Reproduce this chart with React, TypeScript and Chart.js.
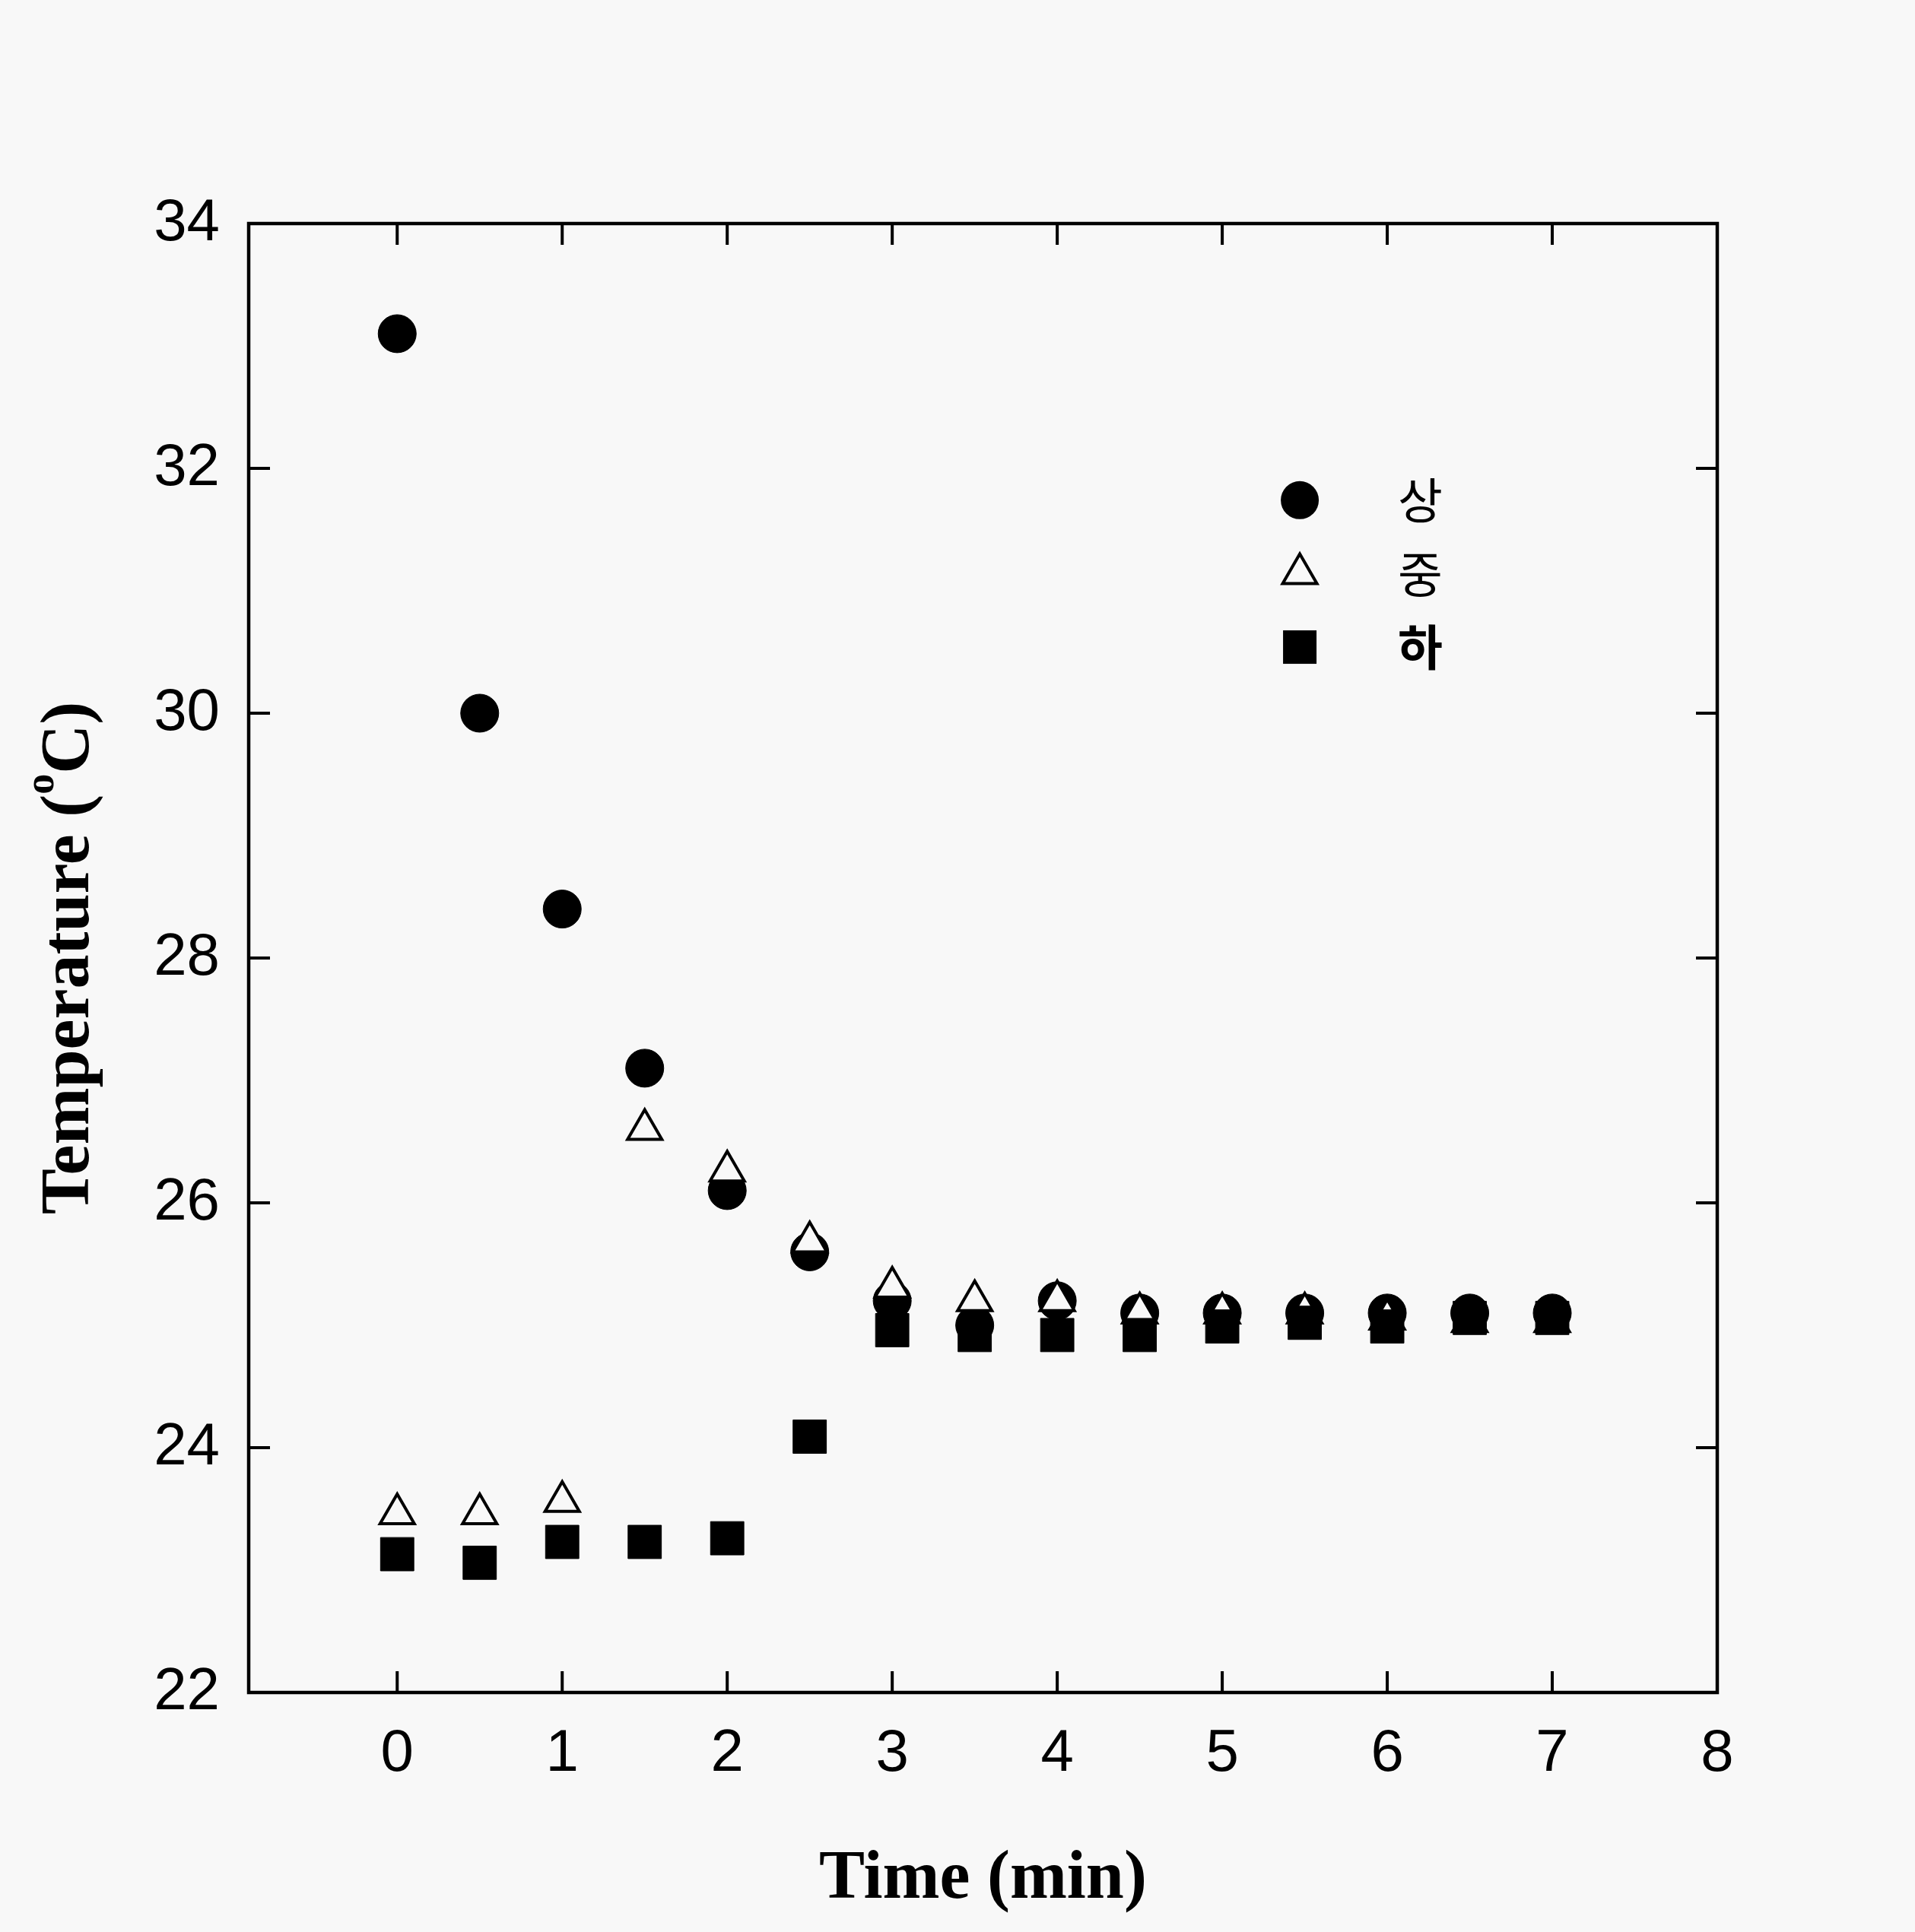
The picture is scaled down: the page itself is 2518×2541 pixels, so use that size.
import React, { useEffect, useRef } from 'react';
import { Chart, registerables } from 'chart.js';

Chart.register(...registerables);

// ---- data ----
const times = [0, 0.5, 1, 1.5, 2, 2.5, 3, 3.5, 4, 4.5, 5, 5.5, 6, 6.5, 7];
const sangValues = [33.1, 30.0, 28.4, 27.1, 26.1, 25.6, 25.2, 25.0, 25.2, 25.1, 25.1, 25.1, 25.1, 25.1, 25.1];
const jungValues = [23.46, 23.46, 23.56, 26.6, 26.26, 25.68, 25.31, 25.2, 25.2, 25.1, 25.1, 25.1, 25.05, 25.03, 25.03];
const haValues = [23.13, 23.06, 23.23, 23.23, 23.26, 24.09, 24.96, 24.92, 24.92, 24.92, 24.99, 25.02, 24.99, 25.06, 25.06];
const seriesLabels = ['상', '중', '하'];
const xTickValues = [0, 1, 2, 3, 4, 5, 6, 7, 8];
const yTickValues = [22, 24, 26, 28, 30, 32, 34];
const xTitle = 'Time (min)';
const yTitleMain = 'Temperature (';
const yTitleSup = 'o';
const yTitleEnd = 'C)';

const BG = '#f8f8f8';
const W = 2518;
const H = 2541;

const bgPlugin = {
  id: 'bgFill',
  beforeDraw(chart: any) {
    const { ctx } = chart;
    ctx.save();
    ctx.fillStyle = BG;
    ctx.fillRect(0, 0, chart.width, chart.height);
    ctx.restore();
  },
};

const framePlugin = {
  id: 'frameTicks',
  afterDraw(chart: any) {
    const { ctx, chartArea: a, scales } = chart;
    const x = scales.x;
    const y = scales.y;
    ctx.save();
    ctx.strokeStyle = '#000';
    ctx.lineWidth = 4.5;
    ctx.strokeRect(a.left, a.top, a.right - a.left, a.bottom - a.top);
    ctx.lineWidth = 4;
    const tl = 28;
    ctx.beginPath();
    for (const v of xTickValues) {
      const px = x.getPixelForValue(v);
      if (px <= a.left + 2 || px >= a.right - 2) continue;
      ctx.moveTo(px, a.bottom);
      ctx.lineTo(px, a.bottom - tl);
      ctx.moveTo(px, a.top);
      ctx.lineTo(px, a.top + tl);
    }
    for (const v of yTickValues) {
      const py = y.getPixelForValue(v);
      if (py <= a.top + 2 || py >= a.bottom - 2) continue;
      ctx.moveTo(a.left, py);
      ctx.lineTo(a.left + tl, py);
      ctx.moveTo(a.right, py);
      ctx.lineTo(a.right - tl, py);
    }
    ctx.stroke();
    ctx.restore();
  },
};

const yTitlePlugin = {
  id: 'yTitle',
  afterDraw(chart: any) {
    const { ctx, chartArea: a } = chart;
    ctx.save();
    ctx.translate(116, (a.top + a.bottom) / 2);
    ctx.rotate(-Math.PI / 2);
    ctx.fillStyle = '#000';
    ctx.textBaseline = 'alphabetic';
    ctx.textAlign = 'left';
    const mainFont = 'bold 90px "Liberation Serif", "Times New Roman", serif';
    const supFont = 'bold 54px "Liberation Serif", "Times New Roman", serif';
    ctx.font = mainFont;
    const w1 = ctx.measureText(yTitleMain).width;
    const w3 = ctx.measureText(yTitleEnd).width;
    ctx.font = supFont;
    const w2 = ctx.measureText(yTitleSup).width;
    const total = w1 + w2 + w3;
    let sx = -total / 2;
    ctx.font = mainFont;
    ctx.fillText(yTitleMain, sx, 0);
    sx += w1;
    ctx.font = supFont;
    ctx.fillText(yTitleSup, sx, -46);
    sx += w2;
    ctx.font = mainFont;
    ctx.fillText(yTitleEnd, sx, 0);
    ctx.restore();
  },
};

// legend anchor positions in data units
const legendMarkerX = 5.47;
const legendTextX = 6.2;
const legendYs = [31.74, 31.14, 30.54];

const legendPlugin = {
  id: 'customLegend',
  afterDraw(chart: any) {
    const { ctx, scales } = chart;
    const x = scales.x;
    const y = scales.y;
    const mx = x.getPixelForValue(legendMarkerX);
    const tx = x.getPixelForValue(legendTextX);
    ctx.save();
    // circle
    let my = y.getPixelForValue(legendYs[0]);
    ctx.fillStyle = '#000';
    ctx.beginPath();
    ctx.arc(mx, my, 25, 0, Math.PI * 2);
    ctx.fill();
    // triangle
    my = y.getPixelForValue(legendYs[1]);
    const r = 26;
    ctx.beginPath();
    for (let i = 0; i < 3; i++) {
      const ang = (i * 2 * Math.PI) / 3;
      const px = mx + Math.sin(ang) * r;
      const py = my - Math.cos(ang) * r;
      if (i === 0) ctx.moveTo(px, py);
      else ctx.lineTo(px, py);
    }
    ctx.closePath();
    ctx.fillStyle = BG;
    ctx.fill();
    ctx.lineWidth = 4;
    ctx.strokeStyle = '#000';
    ctx.stroke();
    // square
    my = y.getPixelForValue(legendYs[2]);
    ctx.fillStyle = '#000';
    ctx.fillRect(mx - 22, my - 22, 44, 44);
    // labels
    ctx.textAlign = 'center';
    ctx.textBaseline = 'middle';
    ctx.fillStyle = '#000';
    seriesLabels.forEach((lab, i) => {
      ctx.font = (i === 2 ? 'bold ' : '') + '64px "Noto Sans CJK KR", sans-serif';
      ctx.fillText(lab, tx, y.getPixelForValue(legendYs[i]));
    });
    ctx.restore();
  },
};

export default function App() {
  const canvasRef = useRef<HTMLCanvasElement | null>(null);

  useEffect(() => {
    const canvas = canvasRef.current;
    if (!canvas) return;
    const toPts = (vals: number[]) => times.map((t, i) => ({ x: t, y: vals[i] }));
    const chart = new Chart(canvas, {
      type: 'scatter',
      data: {
        datasets: [
          {
            label: seriesLabels[0],
            data: toPts(sangValues),
            pointStyle: 'circle',
            pointRadius: 25,
            pointBackgroundColor: '#000',
            pointBorderColor: '#000',
            pointBorderWidth: 1,
            order: 2,
          },
          {
            label: seriesLabels[1],
            data: toPts(jungValues),
            pointStyle: 'triangle',
            pointRadius: 26,
            pointBackgroundColor: BG,
            pointBorderColor: '#000',
            pointBorderWidth: 4,
            order: 1,
          },
          {
            label: seriesLabels[2],
            data: toPts(haValues),
            pointStyle: 'rect',
            pointRadius: 31,
            pointBackgroundColor: '#000',
            pointBorderColor: '#000',
            pointBorderWidth: 1,
            order: 0,
          },
        ],
      },
      options: {
        responsive: false,
        animation: false,
        events: [],
        devicePixelRatio: 1,
        layout: { padding: { top: 294, right: 260, left: 0, bottom: 0 } },
        plugins: {
          legend: { display: false },
          tooltip: { enabled: false },
        },
        scales: {
          x: {
            type: 'linear',
            min: -0.9,
            max: 8,
            grid: { display: false, drawTicks: false },
            border: { display: false },
            ticks: {
              stepSize: 1,
              includeBounds: false,
              padding: 35,
              color: '#000',
              font: { family: '"Liberation Sans", Arial, sans-serif', size: 78 },
              maxRotation: 0,
              autoSkip: false,
            },
            afterBuildTicks: (scale: any) => {
              scale.ticks = xTickValues.map((v) => ({ value: v }));
            },
            afterFit: (scale: any) => {
              scale.height = H - 2226;
            },
            title: {
              display: true,
              text: xTitle,
              color: '#000',
              font: { family: '"Liberation Serif", "Times New Roman", serif', size: 90, weight: 'bold' },
              padding: { top: 0, bottom: 14 },
            },
          },
          y: {
            type: 'linear',
            min: 22,
            max: 34,
            grid: { display: false, drawTicks: false },
            border: { display: false },
            ticks: {
              stepSize: 2,
              padding: 38,
              color: '#000',
              font: { family: '"Liberation Sans", Arial, sans-serif', size: 78 },
            },
            afterBuildTicks: (scale: any) => {
              scale.ticks = yTickValues.map((v) => ({ value: v }));
            },
            afterFit: (scale: any) => {
              scale.width = 327;
            },
          },
        },
      } as any,
      plugins: [bgPlugin, framePlugin, yTitlePlugin, legendPlugin],
    });
    return () => chart.destroy();
  }, []);

  return (
    <div style={{ position: 'absolute', left: 0, top: 0, width: W, height: H, background: BG }}>
      <canvas ref={canvasRef} width={W} height={H} style={{ display: 'block', width: W, height: H }} />
    </div>
  );
}
